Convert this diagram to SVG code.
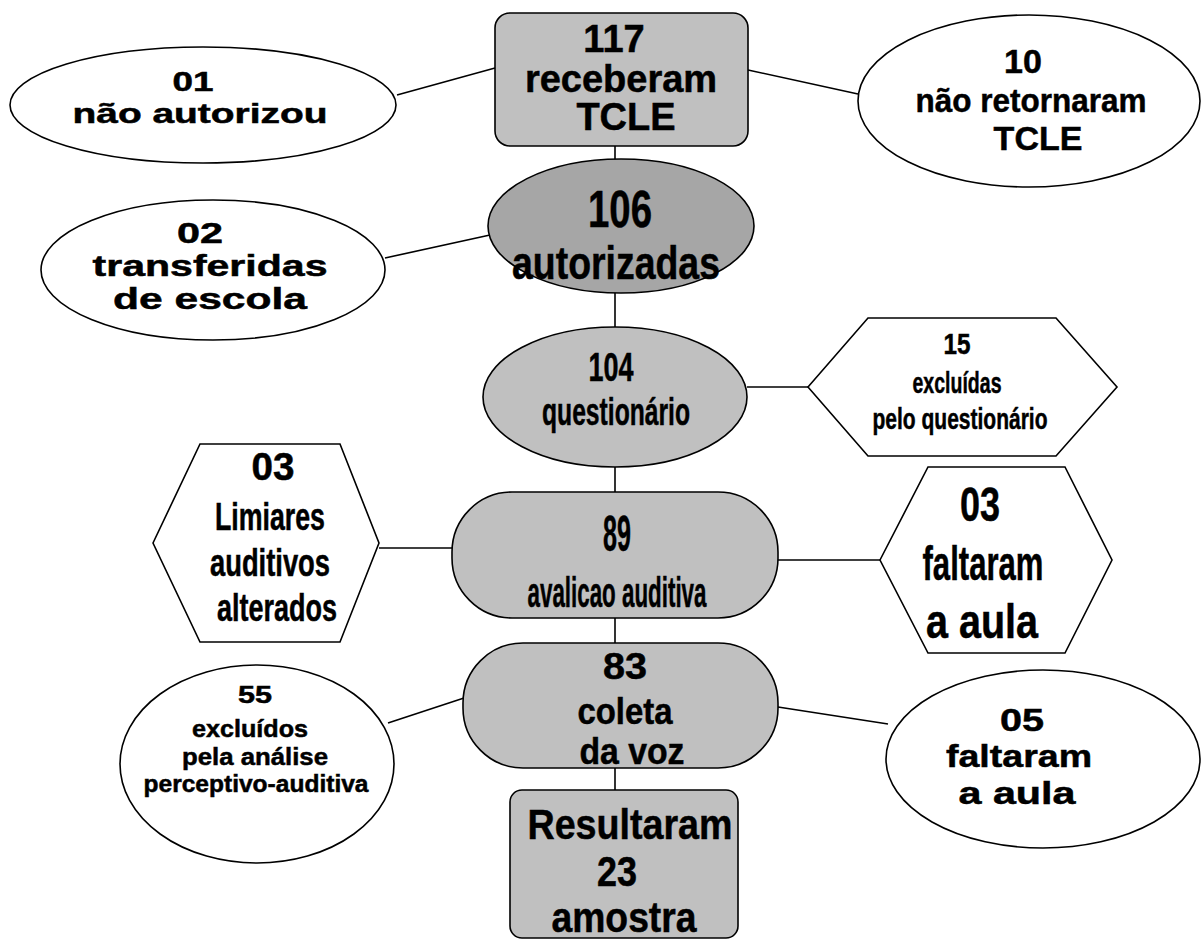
<svg xmlns="http://www.w3.org/2000/svg" width="1203" height="942" viewBox="0 0 1203 942">
<style>
.s{stroke:#000;stroke-width:1.6;}
.g{fill:#c0c0c0;}
.w{fill:#fff;}
text{font-family:"Liberation Sans",Arial,sans-serif;font-weight:bold;fill:#000;text-anchor:middle;stroke:#000;stroke-width:0.5;}
</style>
<rect width="1203" height="942" fill="#fff"/>
<g id="connectors" class="s" fill="none">
<line x1="397" y1="95" x2="495" y2="68"/>
<line x1="748" y1="70" x2="858" y2="94"/>
<line x1="615" y1="146" x2="615" y2="160"/>
<line x1="385" y1="258" x2="490" y2="235"/>
<line x1="615" y1="293" x2="615" y2="327"/>
<line x1="747" y1="387" x2="808" y2="387"/>
<line x1="615" y1="467" x2="615" y2="492"/>
<line x1="379" y1="548" x2="452" y2="548"/>
<line x1="778" y1="560" x2="880" y2="560"/>
<line x1="615" y1="618" x2="615" y2="643"/>
<line x1="388" y1="723" x2="464" y2="698"/>
<line x1="778" y1="707" x2="888" y2="724"/>
<line x1="615" y1="768" x2="615" y2="790"/>
</g>
<g id="n117">
<rect x="495" y="13" width="253" height="133" rx="15" class="s g"/>
<text font-size="38" x="614" y="52">117</text>
<text font-size="38" x="621" y="92">receberam</text>
<text font-size="38" x="626" y="130">TCLE</text>
</g>
<g id="n01">
<ellipse cx="203" cy="105" rx="193" ry="58" class="s w"/>
<text font-size="27" x="193" y="91" textLength="41" lengthAdjust="spacingAndGlyphs">01</text>
<text font-size="27" x="200" y="123" textLength="255" lengthAdjust="spacingAndGlyphs">não autorizou</text>
</g>
<g id="n10">
<ellipse cx="1029" cy="101" rx="171" ry="86" class="s w"/>
<text font-size="34" x="1023" y="73">10</text>
<text font-size="34" x="1031" y="112" textLength="231" lengthAdjust="spacingAndGlyphs">não retornaram</text>
<text font-size="34" x="1038" y="150">TCLE</text>
</g>
<g id="n106">
<ellipse cx="621" cy="226" rx="133" ry="67" class="s" fill="#a6a6a6"/>
<text font-size="52" x="620" y="227" textLength="64" lengthAdjust="spacingAndGlyphs">106</text>
<text font-size="46" x="616" y="279" textLength="208" lengthAdjust="spacingAndGlyphs">autorizadas</text>
</g>
<g id="n02">
<ellipse cx="213" cy="270" rx="172" ry="70" class="s w"/>
<text font-size="30" x="200" y="243" textLength="46" lengthAdjust="spacingAndGlyphs">02</text>
<text font-size="30" x="210" y="276" textLength="235" lengthAdjust="spacingAndGlyphs">transferidas</text>
<text font-size="30" x="210" y="309" textLength="194" lengthAdjust="spacingAndGlyphs">de escola</text>
</g>
<g id="n104">
<ellipse cx="615" cy="397" rx="132" ry="70" class="s g"/>
<text font-size="40" x="611" y="381" textLength="45" lengthAdjust="spacingAndGlyphs">104</text>
<text font-size="38" x="616" y="425" textLength="148" lengthAdjust="spacingAndGlyphs">questionário</text>
</g>
<g id="n15">
<polygon points="808,387 868,318 1056,318 1117,387 1056,456 868,456" class="s w"/>
<text font-size="30" x="957" y="354" textLength="27" lengthAdjust="spacingAndGlyphs">15</text>
<text font-size="30" x="957" y="393" textLength="89" lengthAdjust="spacingAndGlyphs">excluídas</text>
<text font-size="30" x="960" y="429" textLength="175" lengthAdjust="spacingAndGlyphs">pelo questionário</text>
</g>
<g id="n03a">
<polygon points="153,543 200,444 340,444 379,543 340,642 200,642" class="s w"/>
<text font-size="38" x="273" y="480" textLength="43" lengthAdjust="spacingAndGlyphs">03</text>
<text font-size="38" x="270" y="530" textLength="110" lengthAdjust="spacingAndGlyphs">Limiares</text>
<text font-size="38" x="270" y="576" textLength="120" lengthAdjust="spacingAndGlyphs">auditivos</text>
<text font-size="38" x="277" y="621" textLength="120" lengthAdjust="spacingAndGlyphs">alterados</text>
</g>
<g id="n89">
<rect x="452" y="492" width="326" height="126" rx="60" class="s g"/>
<text font-size="50" x="617" y="551" textLength="28" lengthAdjust="spacingAndGlyphs">89</text>
<text font-size="42" x="617" y="607" textLength="179" lengthAdjust="spacingAndGlyphs">avalicao auditiva</text>
</g>
<g id="n03b">
<polygon points="880,560 928,467 1065,467 1112,560 1065,653 928,653" class="s w"/>
<text font-size="48" x="980" y="521" textLength="40" lengthAdjust="spacingAndGlyphs">03</text>
<text font-size="48" x="983" y="580" textLength="121" lengthAdjust="spacingAndGlyphs">faltaram</text>
<text font-size="48" x="982" y="638" textLength="112" lengthAdjust="spacingAndGlyphs">a aula</text>
</g>
<g id="n83">
<rect x="463" y="643" width="315" height="125" rx="60" class="s g"/>
<text font-size="36" x="625" y="679" textLength="44" lengthAdjust="spacingAndGlyphs">83</text>
<text font-size="36" x="625" y="724" textLength="95" lengthAdjust="spacingAndGlyphs">coleta</text>
<text font-size="36" x="632" y="764" textLength="105" lengthAdjust="spacingAndGlyphs">da voz</text>
</g>
<g id="n55">
<ellipse cx="257" cy="764" rx="137" ry="99" class="s w"/>
<text font-size="24" x="255" y="703" textLength="34" lengthAdjust="spacingAndGlyphs">55</text>
<text font-size="24" x="250" y="737" textLength="116" lengthAdjust="spacingAndGlyphs">excluídos</text>
<text font-size="24" x="255" y="765" textLength="146" lengthAdjust="spacingAndGlyphs">pela análise</text>
<text font-size="24" x="256" y="792" textLength="225" lengthAdjust="spacingAndGlyphs">perceptivo-auditiva</text>
</g>
<g id="n05">
<ellipse cx="1043" cy="759" rx="157" ry="89" class="s w"/>
<text font-size="32" x="1022" y="731" textLength="44" lengthAdjust="spacingAndGlyphs">05</text>
<text font-size="32" x="1019" y="767" textLength="146" lengthAdjust="spacingAndGlyphs">faltaram</text>
<text font-size="32" x="1017" y="804" textLength="117" lengthAdjust="spacingAndGlyphs">a aula</text>
</g>
<g id="nres">
<rect x="510" y="790" width="228" height="148" rx="12" class="s g"/>
<text font-size="42" x="630" y="839" textLength="205" lengthAdjust="spacingAndGlyphs">Resultaram</text>
<text font-size="42" x="617" y="886" textLength="40" lengthAdjust="spacingAndGlyphs">23</text>
<text font-size="42" x="624" y="932" textLength="145" lengthAdjust="spacingAndGlyphs">amostra</text>
</g>
</svg>
